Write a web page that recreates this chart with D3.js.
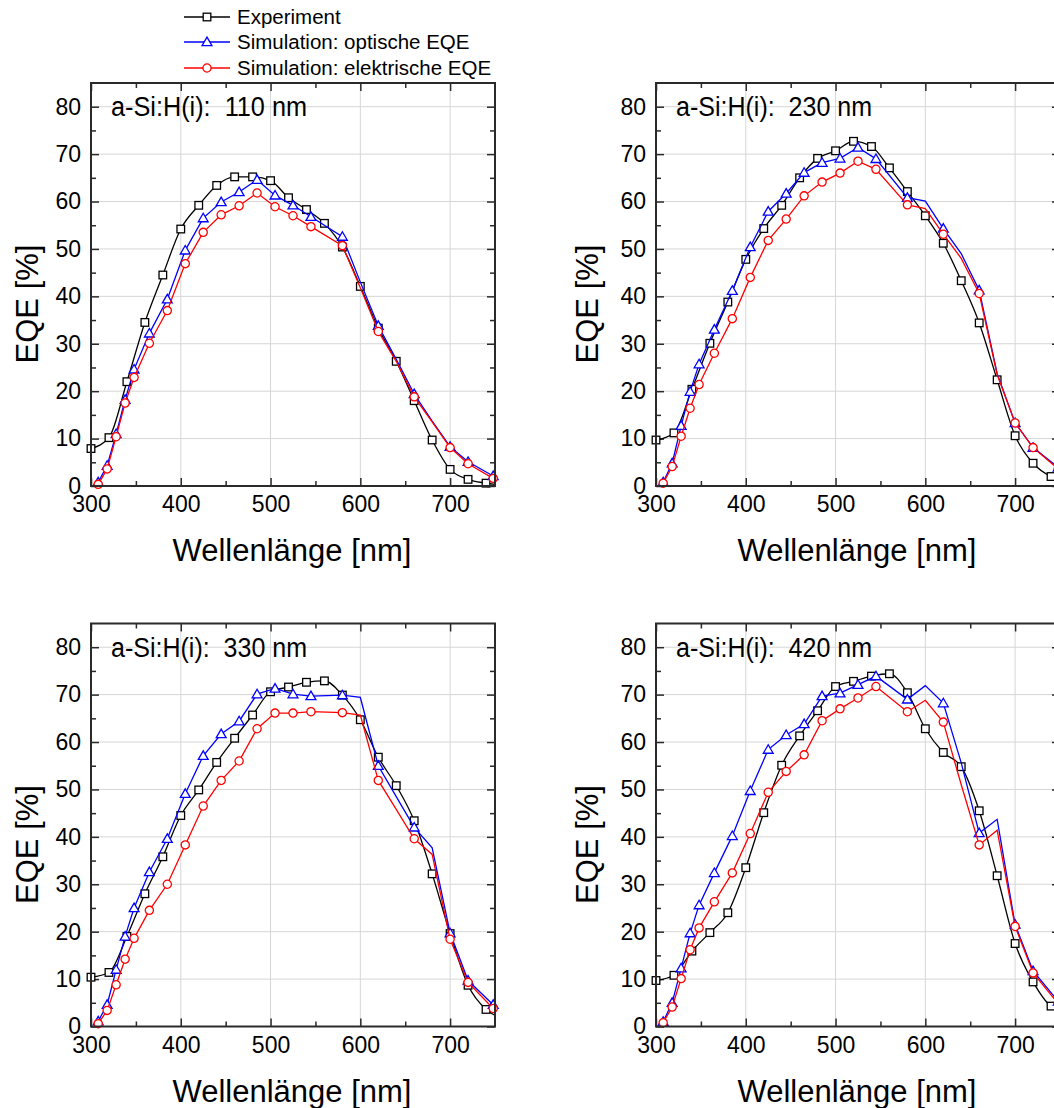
<!DOCTYPE html>
<html>
<head>
<meta charset="utf-8">
<script src="https://cdn.jsdelivr.net/npm/d3@7"></script>
<style>
  body { margin: 0; background: #fff; }
  svg { display: block; font-family: "Liberation Sans", Arial, sans-serif; }
</style>
</head>
<body>
<div id="chart"></div>
<script>
// wavelengths of the measured curve (last point only feeds the line past the frame)
var wlExp = [300, 320, 340, 360, 380, 400, 420, 440, 460, 480, 500, 520, 540, 560, 580, 600, 620, 640, 660, 680, 700, 720, 740, 760];
// wavelengths of the simulated curves
var wlSim = [308, 318, 328, 338, 348, 365, 385, 405, 425, 445, 465, 485, 505, 525, 545, 580, 600, 620, 640, 660, 680, 700, 720, 748];
// simulated points that are drawn as line only, no symbol
var simNoMarker = [600, 640, 680];

var labels = ["a-Si:H(i):  110 nm", "a-Si:H(i):  230 nm", "a-Si:H(i):  330 nm", "a-Si:H(i):  420 nm"];

var exp110 = [7.9, 10.2, 22.0, 34.5, 44.5, 54.2, 59.2, 63.4, 65.2, 65.2, 64.4, 60.8, 58.3, 55.4, 50.4, 42.1, 33.3, 26.3, 18.0, 9.7, 3.5, 1.4, 0.6, 0.1];
var opt110 = [0.8, 4.3, 11.0, 18.2, 24.6, 32.2, 39.4, 49.7, 56.5, 59.9, 62.0, 64.6, 61.3, 59.2, 56.8, 52.6, 43.0, 33.8, 26.7, 19.4, 13.7, 8.3, 5.1, 2.1];
var ele110 = [0.35, 3.6, 10.4, 17.5, 22.9, 30.1, 37.0, 46.9, 53.5, 57.2, 59.1, 61.8, 58.9, 57.0, 54.7, 50.7, 41.8, 32.6, 26.3, 18.8, 13.5, 8.1, 4.7, 1.6];

var exp230 = [9.7, 11.2, 20.4, 30.1, 38.8, 47.8, 54.3, 59.2, 65.0, 69.1, 70.7, 72.7, 71.6, 67.1, 62.1, 57.0, 51.2, 43.3, 34.4, 22.4, 10.6, 4.8, 2.0, 1.0];
var opt230 = [0.8, 4.8, 12.7, 19.9, 25.7, 33.0, 41.2, 50.4, 57.9, 61.7, 66.1, 68.2, 69.1, 71.4, 69.0, 60.8, 60.1, 54.3, 49.0, 41.3, 23.7, 13.3, 8.1, 3.9];
var ele230 = [0.6, 4.1, 10.5, 16.4, 21.4, 28.0, 35.3, 44.0, 51.8, 56.3, 61.2, 64.1, 66.0, 68.5, 66.8, 59.3, 58.5, 53.1, 48.0, 40.6, 23.5, 13.3, 8.1, 3.6];

var exp330 = [10.4, 11.4, 19.0, 28.0, 35.8, 44.5, 49.9, 55.7, 60.8, 65.7, 70.6, 71.6, 72.6, 72.9, 69.9, 64.7, 56.8, 50.8, 43.4, 32.2, 19.6, 8.7, 3.6, 1.6];
var opt330 = [1.1, 4.6, 12.0, 19.0, 25.0, 32.6, 39.6, 49.1, 57.1, 61.7, 64.4, 70.1, 71.3, 70.1, 69.7, 69.9, 69.4, 55.0, 48.5, 42.0, 37.7, 19.7, 9.7, 4.6];
var ele330 = [0.6, 3.4, 8.8, 14.2, 18.6, 24.5, 30.0, 38.3, 46.5, 51.9, 56.0, 62.8, 66.1, 66.1, 66.4, 66.2, 65.7, 51.9, 45.8, 39.6, 36.3, 18.4, 9.3, 3.8];

var exp420 = [9.7, 10.8, 15.9, 19.8, 24.0, 33.5, 45.1, 55.1, 61.3, 66.6, 71.7, 72.8, 73.9, 74.4, 70.4, 62.8, 57.8, 54.8, 45.5, 31.8, 17.5, 9.4, 4.3, 3.0];
var opt420 = [1.0, 5.0, 12.3, 19.7, 25.6, 32.4, 40.2, 49.7, 58.4, 61.5, 63.8, 69.7, 70.3, 72.1, 73.9, 69.0, 71.9, 68.2, 55.6, 40.8, 43.7, 21.5, 11.7, 5.3];
var ele420 = [0.8, 4.1, 10.1, 16.2, 20.8, 26.3, 32.4, 40.7, 49.4, 53.8, 57.3, 64.5, 67.0, 69.3, 71.7, 66.4, 68.8, 64.2, 51.0, 38.3, 41.4, 21.1, 11.3, 4.8];

var seriesNames = ["Experiment", "Simulation: optische EQE", "Simulation: elektrische EQE"];
var xTicks = [300, 400, 500, 600, 700];
var yTicks = [0, 10, 20, 30, 40, 50, 60, 70, 80];

var panels = [
  {label: labels[0], exp: exp110, opt: opt110, ele: ele110},
  {label: labels[1], exp: exp230, opt: opt230, ele: ele230},
  {label: labels[2], exp: exp330, opt: opt330, ele: ele330},
  {label: labels[3], exp: exp420, opt: opt420, ele: ele420}
];

var W = 1054, H = 1108;
var pw = 404, ph = 403;
var lefts = [91, 656];
var tops = [83, 623.5];
var ytitleGap = [53, 58];
var colors = ["#000000", "#0000ff", "#ff0000"];
var frameColor = "#2a2a2a";

var svg = d3.select("#chart").append("svg")
  .attr("width", W)
  .attr("height", H);

svg.append("rect").attr("width", W).attr("height", H).attr("fill", "#fff");

var x = d3.scaleLinear().domain([300, 750]).range([0, pw]);
var y = d3.scaleLinear().domain([0, 85]).range([ph, 0]);

function marker(sel, kind, color) {
  if (kind == 0) {
    sel.append("rect")
      .attr("x", -3.8).attr("y", -3.8)
      .attr("width", 7.6).attr("height", 7.6)
      .attr("fill", "#fff").attr("stroke", color).attr("stroke-width", 1.3);
  } else if (kind == 1) {
    sel.append("path")
      .attr("d", d3.symbol().type(d3.symbolTriangle).size(42))
      .attr("transform", "translate(0,0.8)")
      .attr("fill", "#fff").attr("stroke", color).attr("stroke-width", 1.3);
  } else {
    sel.append("circle")
      .attr("r", 4.1)
      .attr("fill", "#fff").attr("stroke", color).attr("stroke-width", 1.3);
  }
}

panels.forEach(function(p, i) {
  var col = i % 2, row = Math.floor(i / 2);
  var g = svg.append("g")
    .attr("transform", "translate(" + lefts[col] + "," + tops[row] + ")");

  // grid
  g.append("g").selectAll("line").data(xTicks.slice(1)).enter().append("line")
    .attr("x1", function(d) { return x(d); }).attr("x2", function(d) { return x(d); })
    .attr("y1", 0).attr("y2", ph)
    .attr("stroke", "#d6d6d6").attr("stroke-width", 1);
  g.append("g").selectAll("line").data(yTicks.slice(1)).enter().append("line")
    .attr("y1", function(d) { return y(d); }).attr("y2", function(d) { return y(d); })
    .attr("x1", 0).attr("x2", pw)
    .attr("stroke", "#d6d6d6").attr("stroke-width", 1);

  // axes: ticks inward on all four sides
  var xMinor = d3.range(350, 750, 100);
  var yMinor = d3.range(5, 85, 10);
  g.append("g").attr("transform", "translate(0," + ph + ")")
    .call(d3.axisBottom(x).tickValues(xTicks).tickSizeInner(-8).tickSizeOuter(0).tickPadding(10).tickFormat(d3.format("d")));
  g.append("g").attr("transform", "translate(0," + ph + ")")
    .call(d3.axisBottom(x).tickValues(xMinor).tickSizeInner(-5).tickSizeOuter(0).tickFormat(""));
  g.append("g")
    .call(d3.axisTop(x).tickValues(xTicks).tickSizeInner(-8).tickSizeOuter(0).tickFormat(""));
  g.append("g")
    .call(d3.axisTop(x).tickValues(xMinor).tickSizeInner(-5).tickSizeOuter(0).tickFormat(""));
  g.append("g")
    .call(d3.axisLeft(y).tickValues(yTicks).tickSizeInner(-8).tickSizeOuter(0).tickPadding(10).tickFormat(d3.format("d")));
  g.append("g")
    .call(d3.axisLeft(y).tickValues(yMinor).tickSizeInner(-5).tickSizeOuter(0).tickFormat(""));
  g.append("g").attr("transform", "translate(" + pw + ",0)")
    .call(d3.axisRight(y).tickValues(yTicks).tickSizeInner(-8).tickSizeOuter(0).tickFormat(""));
  g.append("g").attr("transform", "translate(" + pw + ",0)")
    .call(d3.axisRight(y).tickValues(yMinor).tickSizeInner(-5).tickSizeOuter(0).tickFormat(""));

  g.selectAll(".domain").remove();
  g.selectAll(".tick line").attr("stroke", frameColor).attr("stroke-width", 1.5);
  g.selectAll(".tick text").attr("fill", "#000").attr("font-size", 23)
    .attr("font-family", "'Liberation Sans', Arial, sans-serif");

  // clipped curves
  var clipId = "clip" + i;
  g.append("clipPath").attr("id", clipId)
    .append("rect").attr("width", pw).attr("height", ph);

  var sets = [
    {wl: wlExp, v: p.exp, curve: d3.curveMonotoneX, skip: []},
    {wl: wlSim, v: p.opt, curve: d3.curveLinear, skip: simNoMarker},
    {wl: wlSim, v: p.ele, curve: d3.curveLinear, skip: simNoMarker}
  ];

  sets.forEach(function(s, k) {
    var pts = s.wl.map(function(w, j) { return [w, s.v[j]]; });
    var line = d3.line()
      .x(function(d) { return x(d[0]); })
      .y(function(d) { return y(d[1]); })
      .curve(s.curve);
    g.append("path")
      .attr("clip-path", "url(#" + clipId + ")")
      .attr("d", line(pts))
      .attr("fill", "none")
      .attr("stroke", colors[k])
      .attr("stroke-width", 1.3);
    var mk = pts.filter(function(d) { return d[0] >= 300 && d[0] <= 750 && s.skip.indexOf(d[0]) < 0; });
    g.append("g").selectAll("g").data(mk).enter().append("g")
      .attr("transform", function(d) { return "translate(" + x(d[0]) + "," + y(d[1]) + ")"; })
      .each(function() { marker(d3.select(this), k, colors[k]); });
  });

  // frame
  g.append("rect").attr("width", pw).attr("height", ph)
    .attr("fill", "none").attr("stroke", frameColor).attr("stroke-width", 2);

  // annotation
  g.append("text")
    .attr("x", 20).attr("y", 33)
    .attr("font-size", 27)
    .attr("textLength", 196).attr("lengthAdjust", "spacingAndGlyphs")
    .style("white-space", "pre")
    .text(p.label);

  // axis titles
  g.append("text")
    .attr("x", pw / 2 - 1).attr("y", ph + 75)
    .attr("text-anchor", "middle")
    .attr("font-size", 31)
    .text("Wellenlänge [nm]");
  g.append("text")
    .attr("transform", "translate(" + (-ytitleGap[col]) + "," + (221) + ") rotate(-90)")
    .attr("text-anchor", "middle")
    .attr("font-size", 31)
    .text("EQE [%]");
});

// legend
var legend = svg.append("g").attr("transform", "translate(184,0)");
var rowsY = [17, 42, 68];
seriesNames.forEach(function(n, k) {
  var r = legend.append("g").attr("transform", "translate(0," + rowsY[k] + ")");
  r.append("line").attr("x1", 0).attr("x2", 46).attr("y1", 0).attr("y2", 0)
    .attr("stroke", colors[k]).attr("stroke-width", 1.3);
  var m = r.append("g").attr("transform", "translate(23,0)");
  marker(m, k, colors[k]);
  r.append("text").attr("x", 53).attr("y", 0).attr("dy", "0.35em")
    .attr("font-size", 20.5)
    .text(n);
});
</script>
</body>
</html>
